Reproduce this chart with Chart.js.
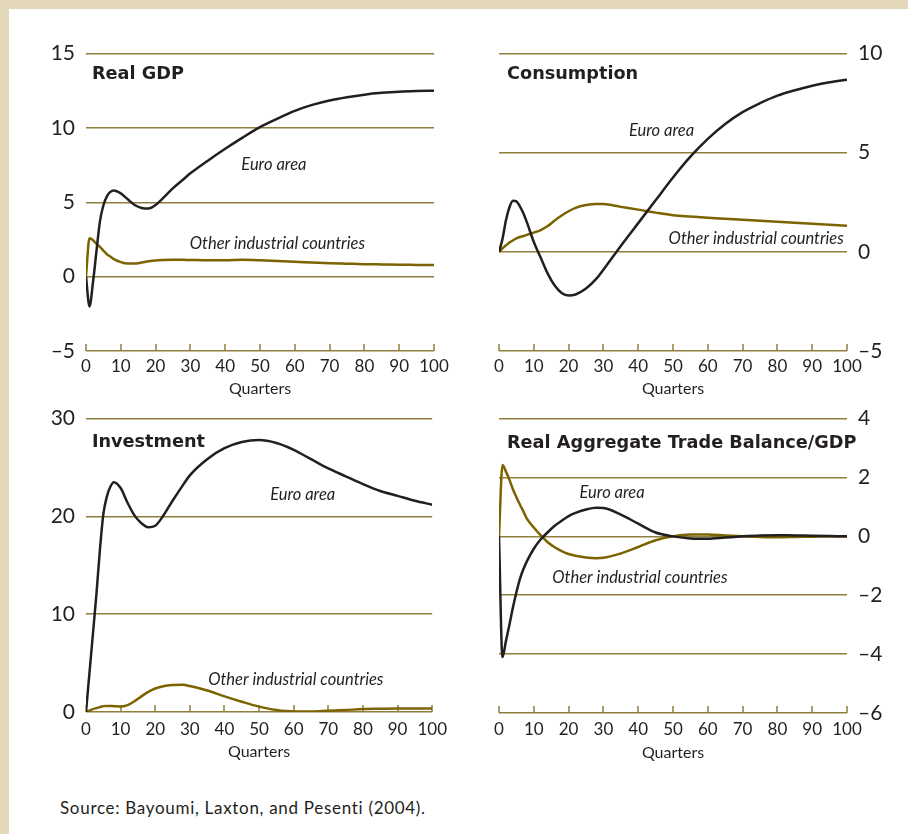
<!DOCTYPE html>
<html>
<head>
<meta charset="utf-8">
<script src="https://cdn.jsdelivr.net/npm/chart.js@4.4.0/dist/chart.umd.min.js"></script>
<style>
  body { margin: 0; background: #fff; }
  #frame { position: relative; width: 908px; height: 834px; background: #fff; font-family: Lato, sans-serif; overflow: hidden; }
  .beige { position: absolute; background: #e3d9b9; }
  canvas { position: absolute; }
  #source { position: absolute; left: 60px; top: 797px; font-size: 17px; letter-spacing: 0.7px; color: #231f20; white-space: nowrap; }
</style>
</head>
<body>
<div id="frame">
  <div class="beige" style="left:0;top:0;width:908px;height:9px"></div>
  <div class="beige" style="left:0;top:0;width:9px;height:834px"></div>
  <canvas id="gdp" width="445" height="380" style="left:9px;top:30px"></canvas>
  <canvas id="cons" width="454" height="380" style="left:454px;top:30px"></canvas>
  <canvas id="inv" width="445" height="375" style="left:9px;top:395px"></canvas>
  <canvas id="trade" width="454" height="375" style="left:454px;top:395px"></canvas>
  <div id="source">Source: Bayoumi, Laxton, and Pesenti (2004).</div>
</div>
<script>
// quarters
var quarters = [0, 1, 2, 3, 4, 5, 6, 7, 8, 10, 12, 14, 16, 18, 20, 22, 25, 28, 30, 35, 40, 45, 50, 55, 60, 65, 70, 75, 80, 85, 90, 95, 100];
var xTicks = [0, 10, 20, 30, 40, 50, 60, 70, 80, 90, 100];

// Real GDP
var gdpEuro = [0, -2.0, -0.4, 1.7, 3.7, 4.8, 5.4, 5.7, 5.8, 5.6, 5.2, 4.82, 4.62, 4.58, 4.82, 5.25, 5.95, 6.55, 6.95, 7.8, 8.6, 9.35, 10.05, 10.62, 11.15, 11.55, 11.85, 12.07, 12.24, 12.36, 12.44, 12.48, 12.5];
var gdpOther = [0, 2.58, 2.45, 2.2, 2.0, 1.75, 1.51, 1.35, 1.18, 0.98, 0.88, 0.88, 0.95, 1.03, 1.09, 1.12, 1.14, 1.13, 1.12, 1.1, 1.1, 1.13, 1.1, 1.05, 1.0, 0.95, 0.9, 0.87, 0.84, 0.82, 0.8, 0.79, 0.78];

// Consumption
var consEuro = [0, 0.65, 1.6, 2.25, 2.58, 2.55, 2.3, 1.95, 1.5, 0.5, -0.3, -1.1, -1.7, -2.07, -2.2, -2.15, -1.85, -1.35, -0.9, 0.3, 1.45, 2.6, 3.75, 4.8, 5.7, 6.45, 7.05, 7.5, 7.88, 8.15, 8.38, 8.55, 8.68];
var consOther = [0, 0.18, 0.33, 0.47, 0.58, 0.68, 0.75, 0.8, 0.86, 0.97, 1.1, 1.3, 1.58, 1.83, 2.05, 2.22, 2.36, 2.42, 2.41, 2.27, 2.13, 1.98, 1.85, 1.78, 1.72, 1.67, 1.62, 1.57, 1.52, 1.47, 1.42, 1.37, 1.32];

// Investment
var invEuro = [0, 4, 8, 12, 16.5, 20.2, 22, 23, 23.5, 22.9, 21.4, 20.1, 19.3, 18.9, 19.05, 19.9, 21.6, 23.2, 24.2, 25.85, 26.97, 27.6, 27.8, 27.5, 26.8, 25.85, 24.9, 24.1, 23.3, 22.6, 22.1, 21.6, 21.2];
var invOther = [0, 0.15, 0.3, 0.4, 0.5, 0.6, 0.62, 0.62, 0.6, 0.55, 0.7, 1.1, 1.6, 2.05, 2.4, 2.6, 2.75, 2.78, 2.65, 2.2, 1.6, 1.05, 0.55, 0.2, 0.05, 0.05, 0.12, 0.2, 0.3, 0.33, 0.35, 0.35, 0.35];

// Real aggregate trade balance / GDP
var tradeEuro = [0, -4.1, -3.55, -3.0, -2.42, -1.9, -1.45, -1.12, -0.85, -0.42, -0.1, 0.14, 0.36, 0.53, 0.69, 0.8, 0.91, 0.97, 0.96, 0.74, 0.43, 0.13, 0, -0.07, -0.08, -0.04, 0, 0.03, 0.04, 0.03, 0.02, 0.01, 0];
var tradeOther = [0, 2.42, 2.2, 1.92, 1.6, 1.33, 1.08, 0.85, 0.6, 0.3, 0.03, -0.2, -0.37, -0.5, -0.6, -0.66, -0.72, -0.74, -0.73, -0.58, -0.36, -0.13, 0, 0.06, 0.06, 0.03, 0, -0.02, -0.03, -0.02, -0.01, 0, 0];

var ink = '#231f20';
var gold = '#7d6300';
var gridColor = '#8f7e3c';

function pts(vals) {
    return vals.map(function (v, i) { return { x: quarters[i], y: v }; });
}

function dash(v) {
    return v < 0 ? '\u2013' + Math.abs(v) : String(v);
}

// tick marks on the quarters axis + panel texts
var panelDecor = {
    id: 'panelDecor',
    beforeDatasetsDraw: function (chart) {
        var ctx = chart.ctx, xs = chart.scales.x, b = chart.chartArea.bottom;
        ctx.save();
        ctx.strokeStyle = gridColor;
        ctx.lineWidth = 1.5;
        xTicks.forEach(function (v) {
            var px = Math.round(xs.getPixelForValue(v));
            ctx.beginPath();
            ctx.moveTo(px, b);
            ctx.lineTo(px, b - 7);
            ctx.stroke();
        });
        ctx.restore();
    },
    afterDatasetsDraw: function (chart, args, opts) {
        var ctx = chart.ctx, xs = chart.scales.x, ys = chart.scales.y;
        ctx.save();
        ctx.fillStyle = ink;
        ctx.textBaseline = 'middle';
        ctx.font = 'bold 17.7px "DejaVu Sans"';
        ctx.textAlign = 'left';
        ctx.fillText(opts.title.text, xs.getPixelForValue(opts.title.x), ys.getPixelForValue(opts.title.y));
        ctx.font = 'italic 16.5px Lato';
        opts.labels.forEach(function (l) {
            ctx.textAlign = l.align || 'center';
            ctx.fillText(l.text, xs.getPixelForValue(l.x), ys.getPixelForValue(l.y));
        });
        ctx.restore();
    }
};

function makePanel(id, p) {
    var ctx = document.getElementById(id).getContext('2d');
    return new Chart(ctx, {
        type: 'line',
        data: {
            datasets: [{
                label: 'Euro area',
                data: pts(p.euro),
                borderColor: ink,
                borderWidth: 2.5,
                pointRadius: 0,
                cubicInterpolationMode: 'monotone'
            }, {
                label: 'Other industrial countries',
                data: pts(p.other),
                borderColor: gold,
                borderWidth: 2.5,
                pointRadius: 0,
                cubicInterpolationMode: 'monotone'
            }]
        },
        options: {
            responsive: false,
            animation: false,
            events: [],
            layout: { padding: p.padding },
            plugins: {
                legend: { display: false },
                tooltip: { enabled: false },
                panelDecor: { title: p.title, labels: p.labels }
            },
            scales: {
                x: {
                    type: 'linear',
                    min: 0,
                    max: 100,
                    afterBuildTicks: function (s) { s.ticks = xTicks.map(function (v) { return { value: v }; }); },
                    grid: { display: false, drawTicks: false },
                    border: { display: false },
                    ticks: { color: ink, font: { family: 'Lato', size: 17 }, padding: p.tickPad, maxRotation: 0 },
                    title: { display: true, text: 'Quarters', color: ink, font: { family: 'Lato', size: 16 }, padding: { top: 0, bottom: p.titlePad } },
                    afterFit: function (s) { s.height = p.xHeight; }
                },
                y: {
                    position: p.side,
                    min: p.yMin,
                    max: p.yMax,
                    ticks: { stepSize: p.step, color: ink, font: { family: 'Lato', size: 21 }, padding: 11, callback: dash },
                    grid: { color: gridColor, lineWidth: 1.5, drawTicks: false },
                    border: { display: false },
                    afterFit: function (s) { s.width = p.yWidth; }
                }
            }
        },
        plugins: [panelDecor]
    });
}

makePanel('gdp', {
    euro: gdpEuro, other: gdpOther, yMin: -5, yMax: 15, step: 5, side: 'left',
    yWidth: 77, xHeight: 59, tickPad: 5, titlePad: 12, padding: { top: 22, right: 20, left: 0, bottom: 0 },
    title: { text: 'Real GDP', x: 1.7, y: 13.6 },
    labels: [{ text: 'Euro area', x: 54, y: 7.5 }, { text: 'Other industrial countries', x: 55, y: 2.2 }]
});

makePanel('cons', {
    euro: consEuro, other: consOther, yMin: -5, yMax: 10, step: 5, side: 'right',
    yWidth: 61, xHeight: 59, tickPad: 5, titlePad: 12, padding: { top: 22, right: 0, left: 45, bottom: 0 },
    title: { text: 'Consumption', x: 2.3, y: 8.95 },
    labels: [{ text: 'Euro area', x: 46.7, y: 6.1 }, { text: 'Other industrial countries', x: 99.1, y: 0.65, align: 'right' }]
});

makePanel('inv', {
    euro: invEuro, other: invOther, yMin: 0, yMax: 30, step: 10, side: 'left',
    yWidth: 77, xHeight: 58, tickPad: 7, titlePad: 9, padding: { top: 20, right: 20, left: 0, bottom: 0 },
    title: { text: 'Investment', x: 1.7, y: 27.6 },
    labels: [{ text: 'Euro area', x: 62.6, y: 22.2 }, { text: 'Other industrial countries', x: 60.6, y: 3.33 }]
});

makePanel('trade', {
    euro: tradeEuro, other: tradeOther, yMin: -6, yMax: 4, step: 2, side: 'right',
    yWidth: 61, xHeight: 57, tickPad: 6, titlePad: 8, padding: { top: 20, right: 0, left: 45, bottom: 0 },
    title: { text: 'Real Aggregate Trade Balance/GDP', x: 2.3, y: 3.17 },
    labels: [{ text: 'Euro area', x: 32.5, y: 1.47 }, { text: 'Other industrial countries', x: 40.5, y: -1.4 }]
});
</script>
</body>
</html>
